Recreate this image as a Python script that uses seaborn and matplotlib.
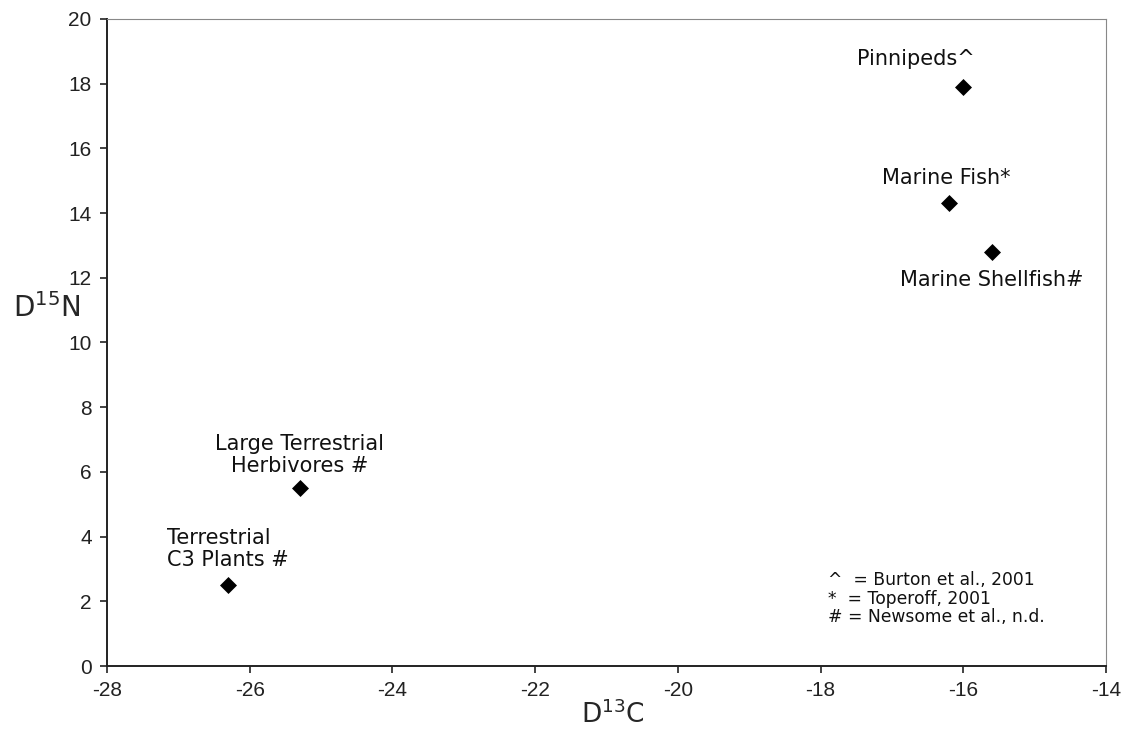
import numpy as np
import pandas as pd
import seaborn as sns
import matplotlib
matplotlib.use('Agg')
import matplotlib.pyplot as plt

# data
groups = ['Pinnipeds^', 'Marine Fish*', 'Marine Shellfish#',
          'Large Terrestrial\nHerbivores #', 'Terrestrial\nC3 Plants #']
d13c = [-16.0, -16.2, -15.6, -25.3, -26.3]
d15n = [17.9, 14.3, 12.8, 5.5, 2.5]
x_ticks = [-28, -26, -24, -22, -20, -18, -16, -14]
y_ticks = [0, 2, 4, 6, 8, 10, 12, 14, 16, 18, 20]
sources = '^  = Burton et al., 2001\n*  = Toperoff, 2001\n# = Newsome et al., n.d.'

df = pd.DataFrame({'group': groups, 'd13c': d13c, 'd15n': d15n})

sns.set_style('ticks')
hand = 'DejaVu Sans'
tick_font = 'Liberation Sans'

fig = plt.figure(figsize=(11.25, 7.29), dpi=100)
ax = fig.add_axes([0.0951, 0.0864, 0.888, 0.8876])

sns.scatterplot(data=df, x='d13c', y='d15n', marker='D', color='black',
                s=75, edgecolor='black', linewidth=0, ax=ax, zorder=3)

ax.set_xlim(-28, -14)
ax.set_ylim(0, 20)
ax.set_xticks(x_ticks)
ax.set_yticks(y_ticks)
ax.set_xticklabels([str(t) for t in x_ticks], fontfamily=tick_font, fontsize=15)
ax.set_yticklabels([str(t) for t in y_ticks], fontfamily=tick_font, fontsize=15)
ax.tick_params(direction='out', length=5, width=1.2, colors='#222222', pad=6)

for side in ['left', 'bottom']:
    ax.spines[side].set_color('#222222')
    ax.spines[side].set_linewidth(1.4)
for side in ['top', 'right']:
    ax.spines[side].set_visible(True)
    ax.spines[side].set_color('#888888')
    ax.spines[side].set_linewidth(0.8)

# label offsets in points (dx, dy, ha, va)
offsets = {
    'Pinnipeds^': (-34, 13, 'center', 'bottom'),
    'Marine Fish*': (-2, 11, 'center', 'bottom'),
    'Marine Shellfish#': (0, -13, 'center', 'top'),
    'Large Terrestrial\nHerbivores #': (0, 9, 'center', 'bottom'),
    'Terrestrial\nC3 Plants #': (0, 11, 'center', 'bottom'),
}
for g, x, y in zip(groups, d13c, d15n):
    dx, dy, ha, va = offsets[g]
    ma = 'left' if g.startswith('Terrestrial') else 'center'
    ax.annotate(g, (x, y), xytext=(dx, dy), textcoords='offset points',
                ha=ha, va=va, multialignment=ma, fontsize=15,
                fontfamily=hand, color='#111111', linespacing=1.1)

ax.text(0.722, 0.147, sources, transform=ax.transAxes, ha='left', va='top',
        fontsize=12.3, fontfamily=hand, color='#111111', linespacing=1.05)

ax.set_xlabel('D$^{13}$C', fontsize=19, fontfamily=hand)
ax.set_ylabel('D$^{15}$N', fontsize=20, fontfamily=hand, rotation=0,
              va='center', ha='center')
ax.yaxis.set_label_coords(-0.060, 0.553)
ax.xaxis.set_label_coords(0.506, -0.053)

fig.savefig('out.png', dpi=100, facecolor='white')
